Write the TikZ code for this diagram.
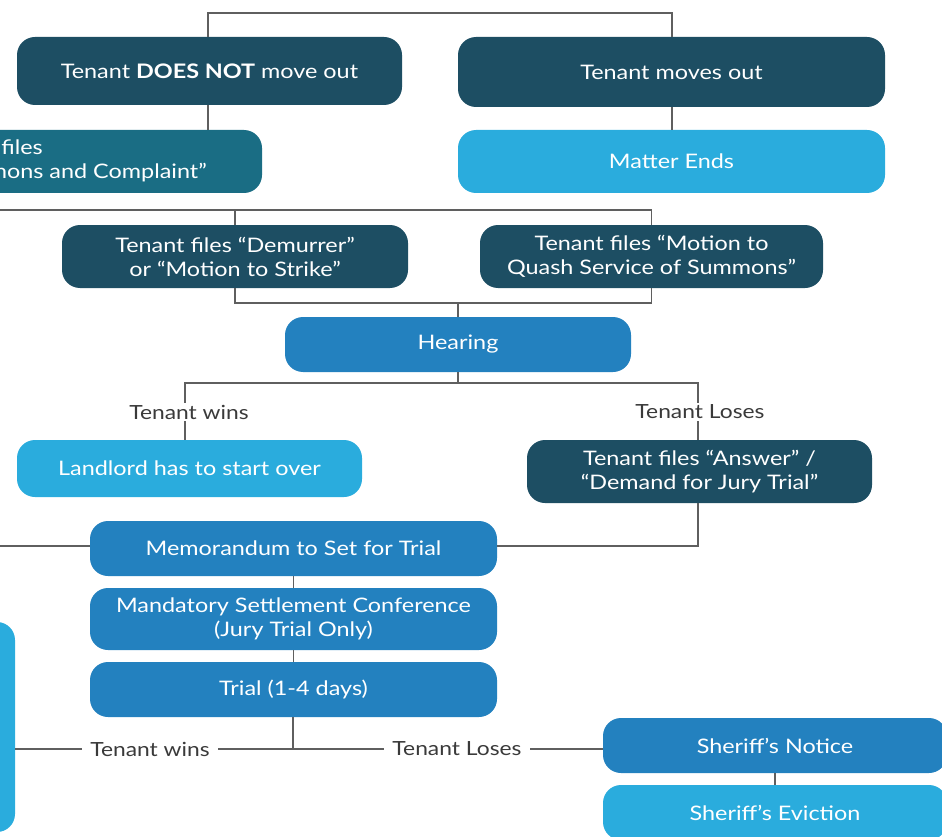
\documentclass[tikz,border=0pt]{standalone}
\usepackage{fontspec}
\setmainfont{Lato}[FakeStretch=1.17]
\definecolor{cdark}{HTML}{1D4E63}
\definecolor{cteal}{HTML}{1A6D84}
\definecolor{clight}{HTML}{2AACDD}
\definecolor{cmid}{HTML}{2381BF}
\definecolor{cline}{HTML}{5F5F5F}
\definecolor{clabel}{HTML}{3A3A3A}
\tikzset{
  x=1pt,y=-1pt,
  box/.style={rectangle, rounded corners=18pt, draw=none, text=white, align=center,
    font=\fontsize{20}{24}\selectfont, inner sep=0pt},
  txt/.style={text=white, font=\fontsize{20}{24}\selectfont, inner sep=0pt},
  conn/.style={draw=cline, line width=1.4pt},
  lbl/.style={fill=white, text=clabel, font=\fontsize{19.5}{22}\selectfont, inner xsep=3pt, inner ysep=2pt}
}
\begin{document}
\begin{tikzpicture}
\useasboundingbox (0,0) rectangle (942,837);
\clip (0,0) rectangle (942,837);
% boxes
\node[box, fill=cdark, minimum width=385, minimum height=68] (b1) at (209.5,71) {Tenant \textbf{DOES NOT} move out};
\node[box, fill=cdark, minimum width=427, minimum height=70] (b2) at (671.5,72) {Tenant moves out};
\node[box, fill=cteal, minimum width=462, minimum height=63] (b3) at (31,161.5) {};
\node[txt, anchor=base east] (b3a) at (43,155) {Landlord files};
\node[txt, anchor=base east] (b3b) at (207,179) {``Summons and Complaint''};
\node[box, fill=clight, minimum width=427, minimum height=63] (b4) at (671.5,161.5) {Matter Ends};
\node[box, fill=cdark, minimum width=346, minimum height=63] (b5) at (235,256.5) {Tenant files ``Demurrer''\\or ``Motion to Strike''};
\node[box, fill=cdark, minimum width=343, minimum height=63] (b6) at (651.5,256.5) {Tenant files ``Motion to\\Quash Service of Summons''};
\node[box, fill=cmid, minimum width=346, minimum height=55] (b7) at (458,344.5) {Hearing};
\node[box, fill=clight, minimum width=345, minimum height=57] (b8) at (189.5,468.5) {Landlord has to start over};
\node[box, fill=cdark, minimum width=345, minimum height=63] (b9) at (699.5,471.5) {Tenant files ``Answer'' /\\``Demand for Jury Trial''};
\node[box, fill=cmid, minimum width=407, minimum height=55] (b10) at (293.5,548.5) {Memorandum to Set for Trial};
\node[box, fill=cmid, minimum width=407, minimum height=62] (b11) at (293.5,619) {Mandatory Settlement Conference\\(Jury Trial Only)};
\node[box, fill=cmid, minimum width=407, minimum height=55] (b12) at (293.5,689.5) {Trial (1-4 days)};
\node[box, fill=clight, minimum width=200, minimum height=210] (b13) at (-85,727) {};
\node[box, fill=cmid, minimum width=344, minimum height=55] (b14) at (775,745.5) {Sheriff's Notice};
\node[box, fill=clight, minimum width=344, minimum height=55] (b15) at (775,812.5) {Sheriff's Eviction};
% coordinates
\coordinate (t1) at (208,13);
\coordinate (t2) at (672,13);
\coordinate (l1) at (-5,210);
\coordinate (l2) at (-5,546);
\coordinate (h1) at (458,303);
\coordinate (h2) at (458,383);
\coordinate (v1) at (185,383);
\coordinate (v2) at (698,383);
\coordinate (tr) at (293,749);
\coordinate (aa) at (698,503);
% connectors
\draw[conn] (b1.north -| t1) -- (t1) -- (t2) -- (b2.north -| t2);
\draw[conn] (b1.south -| t1) -- (b3.north -| t1);
\draw[conn] (b2.south -| t2) -- (b4.north -| t2);
\draw[conn] (l1) -- (l1 -| b6.north) -- (b6.north);
\draw[conn] (l1 -| b5.north) -- (b5.north);
\draw[conn] (b5.south) -- (b5.south |- h1) -- (b6.south |- h1) -- (b6.south);
\draw[conn] (h1) -- (b7.north);
\draw[conn] (b7.south) -- (h2);
\draw[conn] (v1 |- b8.north) -- (v1) -- (v2) -- (v2 |- b9.north);
\node[lbl] (w1) at (189,412) {Tenant wins};
\node[lbl] (lo1) at (700,412) {Tenant Loses};
\draw[conn] (aa) -- (aa |- 0,546) -- (b10.east |- 0,546);
\draw[conn] (l2) -- (b10.west |- l2);
\draw[conn] (b10.south) -- (b11.north);
\draw[conn] (b11.south) -- (b12.north);
\draw[conn] (b12.south -| tr) -- (tr);
\draw[conn] (b13.east |- tr) -- (b14.west |- tr);
\node[lbl, inner xsep=8pt] (w2) at (150,749) {Tenant wins};
\node[lbl, inner xsep=8pt] (lo2) at (457,749) {Tenant Loses};
\draw[conn] (b14.south) -- (b15.north);
\end{tikzpicture}
\end{document}
